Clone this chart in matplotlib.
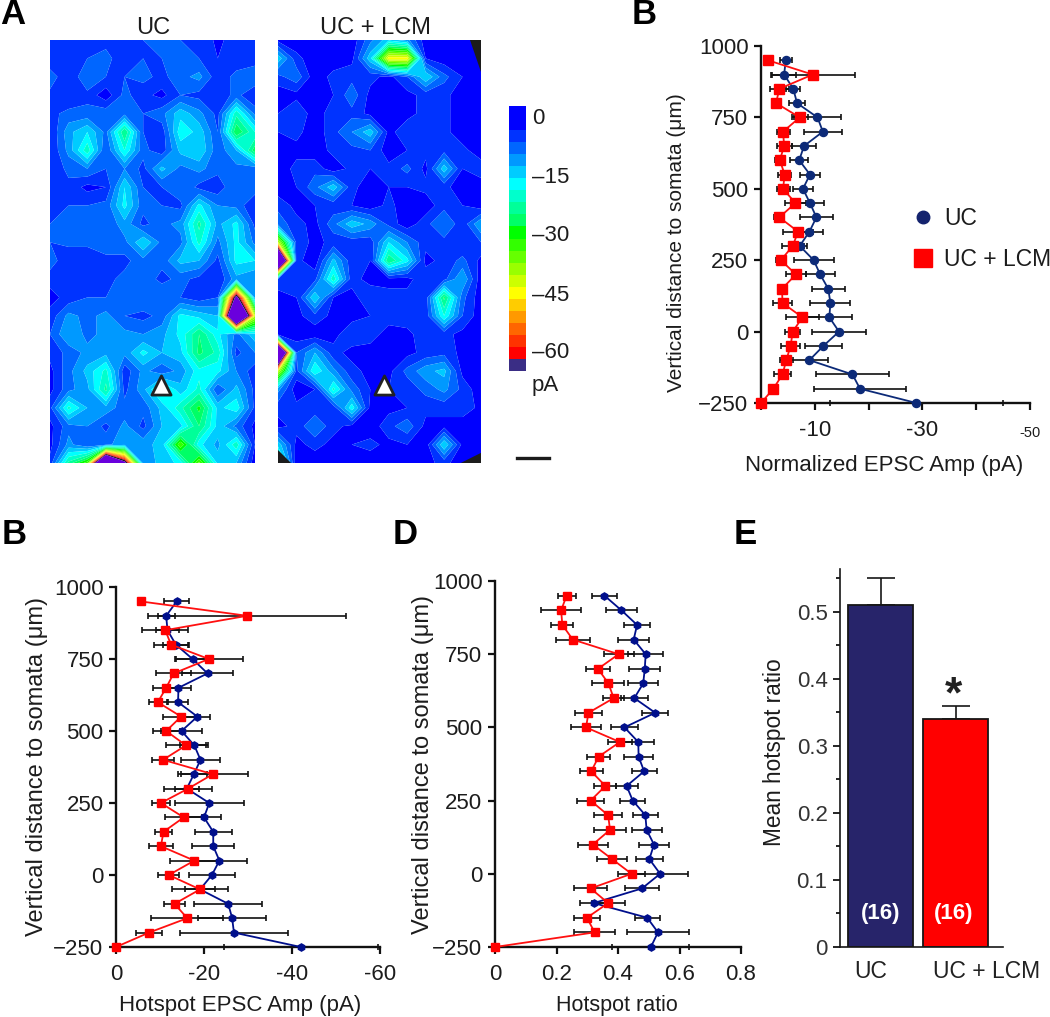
import matplotlib
matplotlib.use("Agg")
import matplotlib.pyplot as plt
import numpy as np
from matplotlib.lines import Line2D
from matplotlib.patches import Polygon

plt.rcParams['font.family'] = ['Liberation Sans', 'DejaVu Sans']
plt.rcParams['text.color'] = '#1c1c1c'
W, H = 1050, 1017

# ---------------- data ----------------
depth = [950, 900, 850, 800, 750, 700, 650, 600, 550, 500, 450, 400, 350, 300, 250,
         200, 150, 100, 50, 0, -50, -100, -150, -200, -250]
y_ticks = [1000, 750, 500, 250, 0, -250]

norm_uc = [-4.6, -4.3, -6.0, -6.7, -10.5, -11.5, -8.0, -7.1, -9.1, -7.8, -9.1, -10.3, -9.0, -7.2, -9.8,
           -11.0, -12.5, -12.9, -12.7, -14.5, -11.6, -9.0, -17.0, -18.4, -28.9]
norm_uc_err = [1.1, 2.2, 1.3, 1.5, 4.3, 3.6, 2.3, 1.7, 1.9, 1.9, 2.7, 3.1, 2.5, 1.4, 3.7,
               2.7, 3.1, 3.7, 4.3, 5.1, 3.4, 3.4, 6.8, 8.6, 16.0]
norm_lcm = [-1.3, -9.6, -3.4, -2.8, -7.2, -4.1, -4.3, -3.5, -4.4, -4.1, -6.4, -3.4, -6.9, -5.9, -3.7,
            -6.5, -3.9, -4.0, -7.7, -5.9, -5.5, -4.7, -4.0, -2.3, 0.0]
norm_lcm_err = [0.0, 7.8, 1.8, 0.8, 1.5, 1.2, 1.4, 0.9, 1.2, 1.2, 2.0, 0.9, 2.8, 2.0, 1.0,
                1.9, 0.6, 1.7, 3.0, 1.4, 1.7, 1.2, 1.5, 0.3, 0.0]

hot_uc = [-13.8, -11.4, -11.7, -13.6, -17.4, -20.8, -14.2, -14.1, -18.5, -14.9, -17.8, -19.2, -17.7, -16.1, -21.2,
          -20.0, -22.1, -22.1, -23.5, -21.8, -19.1, -25.5, -26.4, -26.8, -42.0]
hot_uc_err = [2.9, 1.9, 2.7, 3.0, 3.8, 5.9, 2.9, 2.2, 2.9, 4.6, 3.2, 4.4, 3.0, 2.7, 7.9,
              3.9, 4.2, 4.8, 6.3, 5.3, 3.4, 7.7, 7.7, 12.3, 17.5]
hot_lcm = [-5.6, -29.8, -11.2, -12.5, -21.1, -13.1, -11.4, -9.5, -14.8, -11.4, -15.9, -10.7, -22.0, -16.4, -10.2,
           -15.4, -10.8, -10.2, -17.8, -12.0, -19.1, -13.3, -16.2, -7.5, 0.0]
hot_lcm_err = [0.0, 22.5, 5.2, 3.8, 7.8, 3.9, 3.1, 2.1, 4.2, 3.1, 4.5, 2.5, 8.0, 5.4, 2.0,
               4.2, 2.0, 2.7, 5.5, 2.4, 6.4, 2.3, 8.2, 3.0, 0.0]

ratio_uc = [.356, .411, .462, .451, .490, .487, .482, .453, .521, .421, .466, .467, .485, .428, .448,
            .489, .493, .517, .502, .537, .478, .321, .495, .530, .507]
ratio_uc_err = [.041, .051, .041, .050, .057, .050, .049, .043, .043, .043, .051, .048, .041, .036, .040,
                .040, .049, .049, .043, .090, .054, .046, .041, .102, .125]
ratio_lcm = [.233, .215, .219, .253, .402, .335, .369, .386, .304, .296, .406, .337, .313, .359, .311,
             .368, .374, .318, .381, .444, .311, .368, .299, .324, 0.0]
ratio_lcm_err = [.029, .065, .036, .056, .049, .039, .052, .035, .043, .049, .039, .038, .038, .036, .043,
                 .046, .052, .049, .048, .043, .054, .054, .041, .067, 0.0]

bar_labels = ['UC', 'UC + LCM']
bar_means = [0.51, 0.34]
bar_errs = [0.04, 0.02]
bar_n = ['(16)', '(16)']

map_uc = np.array([
    [4, 3, 3, 5, 3, 6, 7, 6, 6, 2, 5, 6],
    [3, 4, 6, 7, 4, 6, 6, 8, 6, 3, 4, 4],
    [8, 3, 9, 6, 6, 7, 5, 8, 10, 4, 7, 9],
    [5, 3, 5, 1, 7, 4, 2, 6, 5, 4, 7, 3],
    [5, 7, 7, 8, 8, 6, 8, 14, 10, 5, 20, 8],
    [3, 11, 15, 8, 24, 6, 4, 17, 14, 6, 27, 18],
    [3, 10, 20, 6, 18, 7, 4, 13, 15, 7, 12, 26],
    [3, 7, 9, 6, 9, 5, 13, 8, 10, 7, 8, 7],
    [5, 5, 2, 3, 15, 6, 6, 9, 5, 4, 9, 8],
    [3, 6, 6, 7, 16, 7, 6, 5, 16, 9, 8, 3],
    [6, 7, 8, 6, 11, 5, 8, 10, 22, 11, 16, 5],
    [6, 7, 7, 8, 8, 15, 8, 8, 19, 8, 16, 8],
    [8, 3, 3, 5, 5, 8, 7, 13, 12, 5, 16, 15],
    [4, 5, 6, 5, 7, 8, 5, 7, 5, 3, 11, 9],
    [2, 4, 6, 6, 7, 9, 9, 6, 4, 6, 70, 10],
    [4, 10, 8, 10, 6, 5, 7, 16, 14, 12, 110, 40],
    [6, 12, 8, 10, 10, 9, 11, 16, 24, 16, 8, 14],
    [4, 7, 10, 11, 10, 16, 12, 14, 25, 20, 5, 9],
    [2, 8, 13, 19, 4, 10, 7, 10, 17, 16, 9, 4],
    [2, 8, 11, 22, 5, 11, 20, 13, 19, 6, 13, 5],
    [5, 19, 12, 11, 7, 7, 13, 20, 28, 14, 17, 5],
    [2, 8, 9, 5, 10, 5, 12, 14, 24, 14, 8, 2],
    [2, 10, 6, 8, 11, 11, 13, 33, 16, 11, 20, 3],
    [4, 22, 32, 110, 70, 10, 13, 16, 34, 14, 12, 1]], dtype=float)

map_lcm = np.array([
    [2, 1, 1, 1, 1, 8, 14, 10, 1, 1, 1, 1],
    [14, 4, 1, 1, 2, 14, 44, 44, 3, 1, 1, 1],
    [5, 8, 1, 4, 5, 4, 2, 6, 15, 7, 3, 1],
    [1, 2, 1, 3, 8, 2, 1, 2, 4, 4, 1, 1],
    [3, 6, 1, 5, 5, 2, 1, 2, 4, 4, 1, 1],
    [3, 4, 1, 5, 9, 14, 2, 5, 5, 4, 1, 1],
    [1, 2, 1, 4, 5, 6, 1, 3, 4, 5, 4, 1],
    [1, 4, 5, 1, 4, 3, 4, 7, 2, 14, 3, 5],
    [1, 3, 8, 14, 4, 1, 3, 3, 4, 4, 1, 1],
    [5, 2, 3, 4, 3, 1, 4, 1, 1, 5, 3, 1],
    [8, 4, 2, 8, 14, 11, 5, 1, 5, 9, 4, 12],
    [40, 5, 2, 4, 4, 4, 15, 9, 4, 5, 3, 6],
    [110, 4, 1, 13, 4, 3, 24, 16, 2, 4, 7, 2],
    [6, 4, 5, 20, 4, 2, 2, 2, 5, 5, 12, 1],
    [1, 3, 15, 3, 2, 5, 4, 4, 4, 25, 7, 1],
    [1, 2, 5, 2, 2, 3, 4, 5, 4, 18, 6, 1],
    [1, 1, 1, 2, 5, 4, 2, 2, 5, 4, 2, 1],
    [110, 6, 12, 4, 2, 2, 1, 2, 4, 5, 2, 1],
    [40, 5, 18, 10, 4, 2, 2, 7, 11, 13, 2, 1],
    [10, 1, 3, 19, 8, 3, 3, 4, 7, 10, 5, 1],
    [4, 4, 4, 4, 17, 2, 2, 3, 4, 4, 5, 2],
    [2, 4, 9, 4, 2, 1, 5, 8, 2, 2, 1, 1],
    [14, 2, 4, 2, 3, 4, 2, 3, 1, 15, 2, 1],
    [24, 1, 1, 1, 2, 1, 1, 2, 2, 4, 1, 1]], dtype=float)

band_colors = ['#0000ff', '#0033ff', '#0066ff', '#0099ff', '#00ccff', '#00ffff', '#00ffcc', '#00ff99',
               '#00ff66', '#00ff00', '#33ff00', '#66ff00', '#99ff00', '#ccff00', '#ffff00', '#ffcc00',
               '#ff9900', '#ff6600', '#ff3300', '#ff0000']
levels = list(range(0, 63, 3))
cbar_ticks = [0, -14.8, -29.3, -44.2, -58.5]
cbar_labels = ['0', '\u201315', '\u201330', '\u201345', '\u201360']

# ---------------- helpers ----------------
def rect(l, t, r, b):
    return fig.add_axes([l / W, 1 - b / H, (r - l) / W, (b - t) / H])

def ftext(x, y, s, **kw):
    kw.setdefault('ha', 'center')
    kw.setdefault('va', 'center')
    fig.text(x / W, 1 - y / H, s, **kw)

fig = plt.figure(figsize=(W / 100, H / 100), dpi=100, facecolor='white')

for x, y, s in [(13, 15, 'A'), (644, 15, 'B'), (14, 535, 'B'), (405, 535, 'D'), (745, 535, 'E')]:
    ftext(x, y, s, fontsize=25, fontweight='bold', color='black')

# ---------------- maps ----------------
def draw_map(box, grid, title, title_x, tri_x, corners=()):
    ax = rect(*box)
    ny, nx = grid.shape
    cols = band_colors + ['#241420', '#6a00dd']
    lv = levels + [65, 130]
    ax.contourf(np.arange(nx), np.arange(ny), grid, levels=lv, colors=cols, antialiased=True)
    ax.set_xlim(0, nx - 1)
    ax.set_ylim(ny - 1, 0)
    ax.axis('off')
    for c in corners:
        ax.add_patch(Polygon(c, closed=True, fc='#1c1c1c', ec='none', zorder=3))
    ax.scatter([tri_x], [18.76], marker='^', s=190, fc='white', ec='#222222', lw=2, zorder=4, clip_on=False)
    ftext(title_x, 28, title, fontsize=17)

draw_map((50, 40, 255, 463), map_uc, 'UC', 153, 5.96)
draw_map((278, 40, 481, 463), map_lcm, 'UC + LCM', 376, 5.74,
         corners=[[(10.4, 0), (11, 0), (11, 1.75)],
                  [(0, 22.3), (0, 23), (0.7, 23)],
                  [(9.9, 23), (11, 22.45), (11, 23)]])

# colour bar
cax = rect(509, 106, 526, 371)
edges = np.array([3] + [-v for v in levels[1:]] + [-63], dtype=float)
bar_cols = band_colors + ['#3a2d85']
for i, c in enumerate(bar_cols):
    cax.axhspan(edges[i], edges[i + 1], color=c, lw=0)
cax.set_ylim(-63, 3)
cax.set_xlim(0, 1)
cax.axis('off')
for v, s in zip(cbar_ticks, cbar_labels):
    cax.text(1.35, v, s, fontsize=16, va='center', ha='left', clip_on=False)
ftext(545, 386, 'pA', fontsize=16)
fig.add_artist(Line2D([517 / W, 549 / W], [1 - 458 / H] * 2, color='#1c1c1c', lw=2.4))

# ---------------- profile plots ----------------
def profile(box, uc, uce, lcm, lcme, xmax, xticks, xlabels, xlab, ms_r, ms_b, mk_b, col_b,
            ylab_x, ylab_y, ylab_size, xlab_x, xlab_y, xlab_size):
    ax = rect(*box)
    ax.set_xlim(0, xmax)
    ax.set_ylim(-250, 1000)
    for m, e in ((uc, uce), (lcm, lcme)):
        ax.errorbar(m, depth, xerr=e, fmt='none', ecolor='#111111', elinewidth=1.2,
                    capsize=2.3, capthick=1.2, clip_on=False, zorder=2)
    ax.plot(uc, depth, color=col_b, lw=1.3, marker=mk_b, ms=ms_b, clip_on=False, zorder=3)
    ax.plot(lcm, depth, color='#ff1010', lw=1.3, marker='s', ms=ms_r, mec='#ff0000', mfc='#ff0000',
            clip_on=False, zorder=4)
    for s in ('top', 'right'):
        ax.spines[s].set_visible(False)
    for s in ('left', 'bottom'):
        ax.spines[s].set_linewidth(1.7)
        ax.spines[s].set_color('#111111')
    ax.set_yticks(y_ticks)
    ax.set_xticks(xticks)
    ax.set_xticklabels(xlabels)
    ax.tick_params(axis='both', length=5, width=1.6, color='#111111', labelcolor='#1c1c1c', labelsize=16)
    ax.tick_params(axis='x', pad=7)
    ax.tick_params(axis='y', pad=4)
    ftext(ylab_x, ylab_y, 'Vertical distance to somata (\u03bcm)', rotation=90, fontsize=ylab_size)
    ftext(xlab_x, xlab_y, xlab, fontsize=xlab_size)
    return ax

axb = profile((761, 46, 1030, 403), norm_uc, norm_uc_err, norm_lcm, norm_lcm_err, -50,
              [0, -10, -20, -30, -40, -50], ['', '-10', '', '-30', '', ''],
              'Normalized EPSC Amp (pA)', 7.4, 5.8, 'o', '#0c2a78', 677, 243, 15, 884, 466, 16)
axb.text(-50, -0.085, '-50', transform=axb.get_xaxis_transform(), fontsize=10.5, ha='center', va='center')
handles = [Line2D([], [], ls='none', marker='o', ms=9, color='#14236e', label='UC'),
           Line2D([], [], ls='none', marker='s', ms=13.5, color='#ff0000', label='UC + LCM')]
axb.legend(handles=handles, loc='center left', bbox_to_anchor=(0.55, 0.46), frameon=False, fontsize=16.5,
           labelspacing=0.8, handletextpad=0.35, handlelength=1.2, borderpad=0, borderaxespad=0)

profile((116, 587, 380, 947), hot_uc, hot_uc_err, hot_lcm, hot_lcm_err, -60,
        [0, -20, -40, -60], ['0', '-20', '-40', '-60'], 'Hotspot EPSC Amp (pA)', 6.3, 5.2, 'h', '#000f8c',
        37, 767, 17, 240, 1005, 16)

profile((495, 581, 741, 947), ratio_uc, ratio_uc_err, ratio_lcm, ratio_lcm_err, 0.8,
        [0, .2, .4, .6, .8], ['0', '0.2', '0.4', '0.6', '0.8'], 'Hotspot ratio', 6.3, 5.2, 'h', '#000f8c',
        423, 765, 17, 617, 1005, 15.5)

# ---------------- bar panel ----------------
axe = rect(840, 569, 1003, 947)
axe.set_xlim(-0.54, 1.633)
axe.set_ylim(0, 0.564)
axe.bar([0, 1], bar_means, width=0.867, color=['#27246a', '#ff0000'], edgecolor='#161616', lw=1.3, zorder=2)
axe.errorbar([0, 1], bar_means, yerr=[[0, 0], bar_errs], fmt='none', ecolor='#161616', elinewidth=1.2,
             capsize=10, capthick=1.2, zorder=1)
for s in ('top', 'right'):
    axe.spines[s].set_visible(False)
for s in ('left', 'bottom'):
    axe.spines[s].set_linewidth(1.2)
    axe.spines[s].set_color('#161616')
axe.set_yticks([0, .1, .2, .3, .4, .5])
axe.set_yticklabels(['0', '0.1', '0.2', '0.3', '0.4', '0.5'])
axe.set_yticks(np.arange(0.05, 0.56, 0.1), minor=True)
axe.tick_params(axis='y', which='major', length=5, width=1.2, labelsize=16, pad=4, labelcolor='#333333')
axe.tick_params(axis='y', which='minor', length=3, width=1.2)
axe.set_xticks([-0.13, 1.41])
axe.set_xticklabels(bar_labels)
axe.tick_params(axis='x', length=0, labelsize=16.5, pad=9, labelcolor='#222222')
for xp, s in zip([0, 0.97], bar_n):
    axe.text(xp, 0.05, s, color='white', fontweight='bold', fontsize=16, ha='center', va='center')
axe.text(0.97, 0.375, '*', fontsize=32, fontweight='bold', ha='center', va='center', color='#222222')
ftext(775, 752, 'Mean hotspot ratio', rotation=90, fontsize=16.3)

fig.savefig('out.png', dpi=100, facecolor='white')
